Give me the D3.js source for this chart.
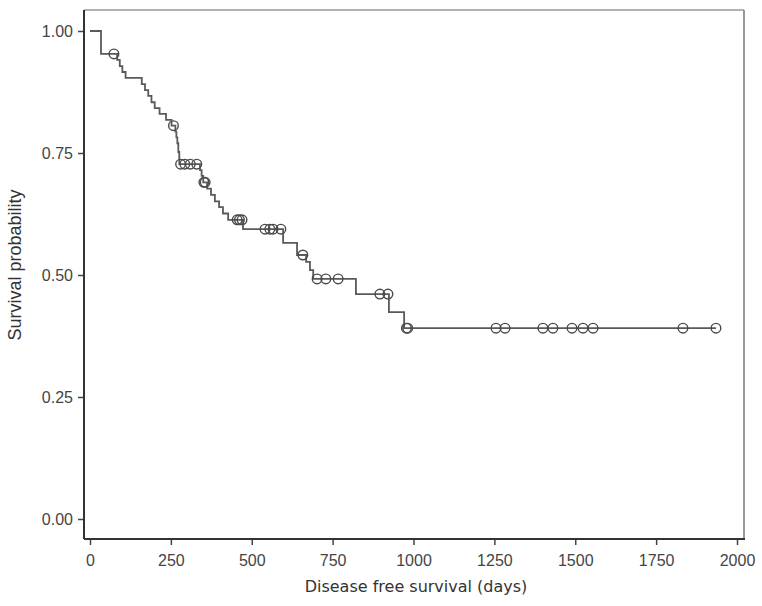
<!DOCTYPE html>
<html lang="en">
<head>
<meta charset="UTF-8">
<title>Disease free survival</title>
<script src="https://d3js.org/d3.v7.min.js"></script>
<style>
    body { margin: 0; background: #fff; }
    .tick text { font-family: "Liberation Sans", Arial, sans-serif; font-size: 16px; fill: #444; }
    .title { font-family: "DejaVu Sans", Verdana, sans-serif; font-size: 16px; fill: #333; }
</style>
</head>
<body>
<svg id="chart" width="762" height="606"></svg>
<script>
// event times (days) and survival after each step
const eventTimes = [0, 34, 84, 92, 100, 110, 160, 170, 180, 190, 200, 215, 235, 252,
    264, 267, 270, 273, 276, 340, 345, 350, 362, 374, 386, 399, 411, 427, 473,
    597, 640, 668, 680, 690, 822, 924, 971];
const survival = [1.0, 0.953, 0.941, 0.928, 0.916, 0.904, 0.891, 0.879, 0.867, 0.854, 0.842,
    0.830, 0.818, 0.806, 0.794, 0.782, 0.770, 0.752, 0.727, 0.715, 0.703, 0.690,
    0.677, 0.664, 0.651, 0.639, 0.626, 0.613, 0.594, 0.566, 0.541, 0.527, 0.510,
    0.492, 0.461, 0.424, 0.391];
// censored observations
const censorTimes = [74, 258, 280, 293, 310, 330, 352, 356, 455, 462, 470, 541, 556, 566,
    590, 658, 702, 729, 767, 896, 921, 978, 982, 1255, 1283, 1400, 1431, 1490, 1524,
    1555, 1833, 1935];
const xTicks = [0, 250, 500, 750, 1000, 1250, 1500, 1750, 2000];
const yTicks = [0, 0.25, 0.5, 0.75, 1.0];

const svg = d3.select("#chart");
const frame = { left: 84, right: 744, top: 10, bottom: 539 };

const x = d3.scaleLinear().domain([0, 2000]).range([90, 737]);
const y = d3.scaleLinear().domain([0, 1]).range([519, 31]);

// step lookup for censor marks
const survAt = t => {
    let s = 1;
    eventTimes.forEach((et, i) => { if (et <= t) s = survival[i]; });
    return s;
};

// frame
svg.append("line").attr("x1", frame.left).attr("x2", frame.right)
    .attr("y1", frame.top).attr("y2", frame.top)
    .attr("stroke", "#999").attr("stroke-width", 1.5);
svg.append("line").attr("x1", frame.right).attr("x2", frame.right)
    .attr("y1", frame.top).attr("y2", frame.bottom)
    .attr("stroke", "#777").attr("stroke-width", 1.5);

// axes
const xAxis = svg.append("g")
    .attr("transform", `translate(0,${frame.bottom})`)
    .call(d3.axisBottom(x).tickValues(xTicks).tickSize(6).tickPadding(10).tickFormat(d3.format("d")));
xAxis.select(".domain").remove();
xAxis.selectAll(".tick line").attr("stroke", "#444").attr("stroke-width", 1.5);

const yAxis = svg.append("g")
    .attr("transform", `translate(${frame.left},0)`)
    .call(d3.axisLeft(y).tickValues(yTicks).tickSize(6).tickPadding(5).tickFormat(d3.format(".2f")));
yAxis.select(".domain").remove();
yAxis.selectAll(".tick line").attr("stroke", "#444").attr("stroke-width", 1.5);

svg.append("line").attr("x1", frame.left).attr("x2", frame.right + 1)
    .attr("y1", frame.bottom).attr("y2", frame.bottom)
    .attr("stroke", "#333").attr("stroke-width", 2);
svg.append("line").attr("x1", frame.left).attr("x2", frame.left)
    .attr("y1", frame.top).attr("y2", frame.bottom)
    .attr("stroke", "#333").attr("stroke-width", 2);

// survival curve
const pts = eventTimes.map((t, i) => [t, survival[i]]);
pts.push([d3.max(censorTimes), survival[survival.length - 1]]);
svg.append("path")
    .datum(pts)
    .attr("fill", "none")
    .attr("stroke", "#5a5a5a")
    .attr("stroke-width", 1.8)
    .attr("d", d3.line().x(d => x(d[0])).y(d => y(d[1])).curve(d3.curveStepAfter));

// censor marks
svg.selectAll(".censor")
    .data(censorTimes)
    .enter()
    .append("circle")
    .attr("class", "censor")
    .attr("cx", d => x(d))
    .attr("cy", d => y(survAt(d)))
    .attr("r", 4.8)
    .attr("fill", "none")
    .attr("stroke", "#4a4a4a")
    .attr("stroke-width", 1.4);

// titles
svg.append("text").attr("class", "title")
    .attr("x", 416).attr("y", 592)
    .attr("text-anchor", "middle")
    .text("Disease free survival (days)");
svg.append("text").attr("class", "title")
    .attr("transform", "translate(21,265) rotate(-90)")
    .attr("text-anchor", "middle")
    .style("font-family", "'Liberation Sans', Arial, sans-serif")
    .style("font-size", "18px")
    .text("Survival probability");
</script>
</body>
</html>
